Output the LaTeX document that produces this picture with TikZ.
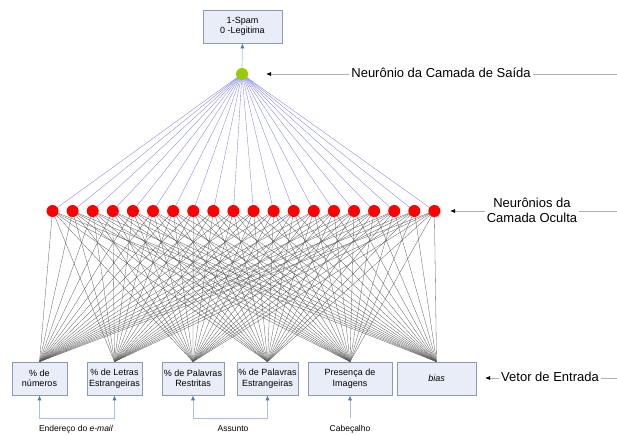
\documentclass[tikz,border=0pt]{standalone}
\usepackage{fontspec}
\setmainfont{Liberation Sans}
\usetikzlibrary{arrows.meta,backgrounds}
\definecolor{boxfill}{RGB}{232,237,247}
\definecolor{boxline}{RGB}{142,154,174}
\definecolor{wireblue}{RGB}{130,130,240}
\definecolor{limeg}{RGB}{153,204,0}
\definecolor{linkblue}{RGB}{168,192,232}
\definecolor{tipblue}{RGB}{70,120,205}
\definecolor{capgray}{RGB}{176,176,176}
\begin{document}
\begin{tikzpicture}[x=1pt,y=-1pt,
  box/.style={draw=boxline, fill=boxfill, minimum height=33pt, inner sep=0pt,
    align=center, font=\fontsize{9}{10.5}\selectfont, line width=0.6pt},
  hid/.style={circle, fill=red, minimum size=12pt, inner sep=0pt},
  outn/.style={circle, fill=limeg, minimum size=12pt, inner sep=0pt},
  wireout/.style={draw=wireblue, line width=0.35pt},
  wirein/.style={draw=black!65, line width=0.3pt},
  captext/.style={font=\fontsize{13}{15}\selectfont, align=center, inner xsep=2pt, inner ysep=1pt},
  capline/.style={draw=capgray, line width=0.7pt},
  caparrow/.style={draw=capgray, line width=0.7pt, -{Latex[length=5pt,width=4pt,black]}},
  blarrow/.style={draw=linkblue, line width=0.7pt, -{Latex[length=5pt,width=4pt,tipblue]}},
  blboth/.style={draw=linkblue, line width=0.7pt, {Latex[length=5pt,width=4pt,tipblue]}-{Latex[length=5pt,width=4pt,tipblue]}},
  lab/.style={font=\fontsize{8.5}{10}\selectfont}
]
\useasboundingbox (0,0) rectangle (617,435);

% output box and neuron
\node[box, minimum width=79pt] (ob) at (242.5,26.5) {1-Spam\\0 -Legitima};
\node[outn] (o) at (242,74) {};
\draw[blarrow] (o.north) -- (ob.south);

% hidden neurons
\foreach \i in {1,...,20}
  \node[hid] (h\i) at ({52.5+20.1*(\i-1)},211) {};

% input boxes
\node[box, minimum width=55pt] (i1) at (39.5,378.5) {\%  de\\números};
\node[box, minimum width=55pt] (i2) at (114.5,378.5) {\% de Letras\\Estrangeiras};
\node[box, minimum width=62pt] (i3) at (193,378.5) {\% de Palavras\\Restritas};
\node[box, minimum width=61pt] (i4) at (267.5,378.5) {\% de Palavras\\Estrangeiras};
\node[box, minimum width=84pt] (i5) at (350,378.5) {Presença de\\Imagens};
\node[box, minimum width=79pt] (i6) at (436.5,378.5) {\textit{bias}};

% connections
\begin{scope}[on background layer]
  \foreach \i in {1,...,20} {
    \draw[wireout] (h\i.center) -- (o.center);
    \foreach \j in {1,...,6}
      \draw[wirein] (h\i.center) -- (i\j.north);
  }
\end{scope}

% captions
\node[captext] (t1) at (441,73) {Neurônio da Camada de Saída};
\coordinate (e1) at (617,74);
\coordinate (a1) at (266,74);
\draw[capline] (e1) -- (e1 -| t1.east);
\draw[caparrow] (a1 -| t1.west) -- (a1);

\node[captext] (t2) at (532,210.5) {Neurônios da\\Camada Oculta};
\coordinate (e2) at (617,211);
\coordinate (a2) at (450,211);
\draw[capline] (e2) -- (e2 -| t2.east);
\draw[caparrow] (a2 -| t2.west) -- (a2);

\node[captext] (t3) at (550,377) {Vetor de Entrada};
\coordinate (e3) at (617,378);
\coordinate (a3) at (485,378);
\draw[capline] (e3) -- (e3 -| t3.east);
\draw[caparrow] (a3 -| t3.west) -- (a3);

% bottom groups
\coordinate (g1) at (76,418);
\coordinate (g2) at (230,418);
\draw[blboth] (i1.south) -- (i1.south |- g1) -| (i2.south);
\draw[blboth] (i3.south) -- (i3.south |- g2) -| (i4.south);
\node[lab] (l1) at (76,429) {Endereço do \textit{e-mail}};
\node[lab] (l2) at (233,429) {Assunto};
\node[lab] (l3) at (350,429) {Cabeçalho};
\coordinate (g3) at (350,418);
\draw[blarrow] (g3) -- (i5.south);
\end{tikzpicture}
\end{document}
